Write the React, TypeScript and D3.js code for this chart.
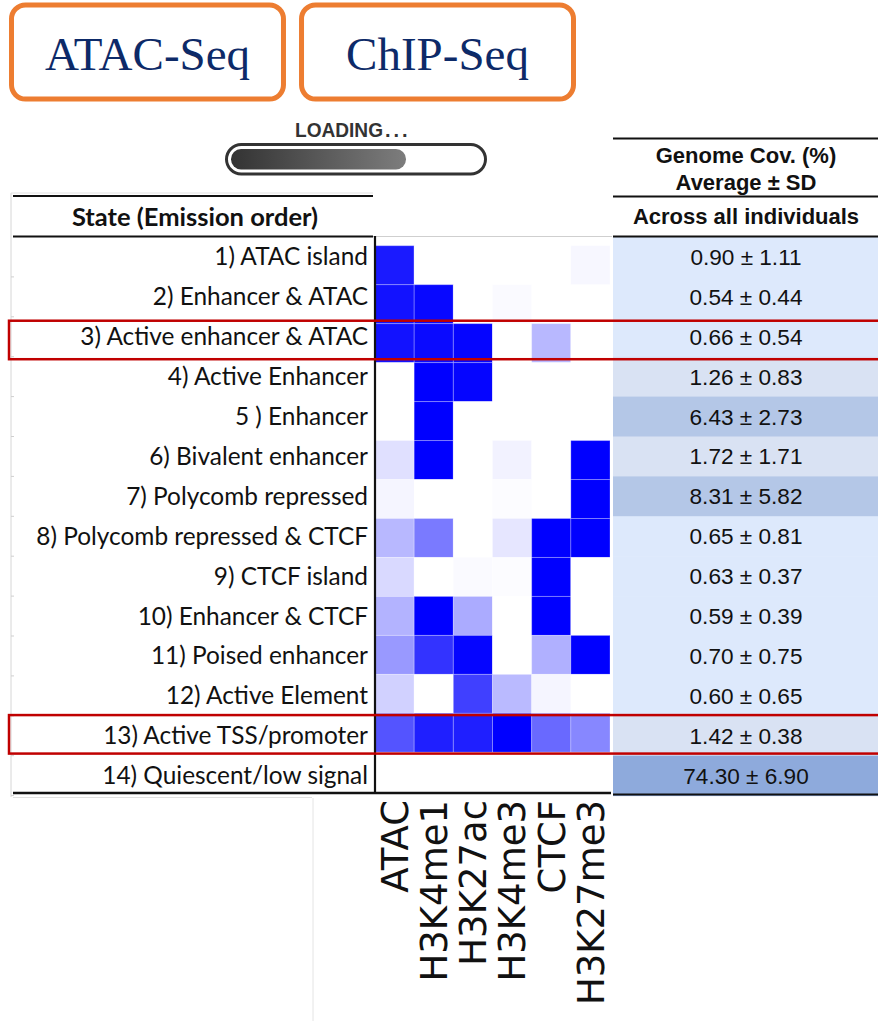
import React from "react";
import * as d3 from "d3";

const marks = ["ATAC", "H3K4me1", "H3K27ac", "H3K4me3", "CTCF", "H3K27me3"];

const states = [
  "1) ATAC island",
  "2) Enhancer & ATAC",
  "3) Active enhancer & ATAC",
  "4) Active Enhancer",
  "5 ) Enhancer",
  "6) Bivalent enhancer",
  "7) Polycomb repressed",
  "8) Polycomb repressed & CTCF",
  "9) CTCF island",
  "10) Enhancer & CTCF",
  "11) Poised enhancer",
  "12) Active Element",
  "13) Active TSS/promoter",
  "14) Quiescent/low signal",
];

// emission intensities per state (ATAC, H3K4me1, H3K27ac, H3K4me3, CTCF, H3K27me3)
const emissions = [
  [0.9, 0, 0, 0, 0, 0.03],
  [0.93, 0.97, 0, 0.02, 0, 0],
  [0.93, 0.96, 0.98, 0, 0.28, 0],
  [0, 1.0, 0.98, 0, 0, 0],
  [0, 1.0, 0, 0, 0, 0],
  [0.12, 1.0, 0, 0.05, 0, 1.0],
  [0.04, 0, 0, 0.01, 0, 1.0],
  [0.28, 0.52, 0, 0.1, 1.0, 1.0],
  [0.15, 0, 0.02, 0.01, 1.0, 0],
  [0.3, 1.0, 0.33, 0, 1.0, 0],
  [0.4, 0.8, 0.98, 0, 0.31, 1.0],
  [0.18, 0, 0.75, 0.27, 0.04, 0],
  [0.67, 0.88, 0.88, 1.0, 0.59, 0.47],
  [0, 0, 0, 0, 0, 0],
];

const covMean = [0.9, 0.54, 0.66, 1.26, 6.43, 1.72, 8.31, 0.65, 0.63, 0.59, 0.7, 0.6, 1.42, 74.3];
const covSD = [1.11, 0.44, 0.54, 0.83, 2.73, 1.71, 5.82, 0.81, 0.37, 0.39, 0.75, 0.65, 0.38, 6.9];

const highlighted = ["3) Active enhancer & ATAC", "13) Active TSS/promoter"];

const buttons = ["ATAC-Seq", "ChIP-Seq"];

export default function App() {
  const W = 878;
  const H = 1021;

  const x = d3.scaleBand<string>().domain(marks).range([375, 610]);
  const yHeat = d3.scaleBand<string>().domain(states).range([245.7, 791.3]);
  const yTab = d3.scaleBand<string>().domain(states).range([237, 795.6]);
  const color = d3.scaleLinear<string>().domain([0, 1]).range(["#ffffff", "#0000ff"]);
  const covColor = d3
    .scaleThreshold<number, string>()
    .domain([1, 2, 10])
    .range(["#dde9fc", "#d9e2f3", "#b4c7e7", "#8eaadc"]);

  const labelFont = "Lato, 'Open Sans', sans-serif";
  const arial = "'Liberation Sans', Arial, sans-serif";

  const btnX = d3.scaleBand<string>().domain(buttons).range([9, 576]).paddingInner(0.045);

  return (
    <svg
      width={W}
      height={H}
      style={{ position: "absolute", left: 0, top: 0, background: "#fff" }}
    >
      <defs>
        <linearGradient id="loadGrad" x1="0" x2="1" y1="0" y2="0">
          <stop offset="0" stopColor="#333333" />
          <stop offset="1" stopColor="#7d7d7d" />
        </linearGradient>
      </defs>

      {/* buttons */}
      {buttons.map((b) => (
        <g key={b}>
          <rect
            x={(btnX(b) as number) + 2.5}
            y={5}
            width={btnX.bandwidth() - 5}
            height={94}
            rx={14}
            fill="#fff"
            stroke="#ed7d31"
            strokeWidth={5}
          />
          <text
            x={(btnX(b) as number) + btnX.bandwidth() / 2}
            y={70}
            textAnchor="middle"
            fontFamily="'Liberation Serif', 'Times New Roman', serif"
            fontSize={47}
            fill="#0d2a68"
          >
            {b}
          </text>
        </g>
      ))}

      {/* loading bar */}
      <text
        x={295}
        y={136.5}
        fontFamily={arial}
        fontWeight="bold"
        fontSize={20}
        fill="#333"
        textLength={88}
        lengthAdjust="spacingAndGlyphs"
      >
        LOADING
      </text>
      <text x={385} y={136.5} fontFamily={arial} fontWeight="bold" fontSize={20} fill="#333" letterSpacing={3}>
        ...
      </text>
      <rect x={226.5} y={144.5} width={259} height={29.5} rx={14.75} fill="#fff" stroke="#333" strokeWidth={3} />
      <rect x={231} y={149} width={175} height={20.5} rx={10} fill="url(#loadGrad)" />

      {/* left table frame */}
      <line x1={11} x2={11} y1={193} y2={797} stroke="#d6d6d6" strokeWidth={1} />
      <line x1={11} x2={373} y1={193} y2={193} stroke="#e2e2e2" strokeWidth={1} />
      <line x1={13} x2={373} y1={196} y2={196} stroke="#111" strokeWidth={2.2} />
      <line x1={13} x2={373} y1={236.5} y2={236.5} stroke="#111" strokeWidth={2.2} />
      <line x1={373} x2={612} y1={236.5} y2={236.5} stroke="#cfcfcf" strokeWidth={1} />
      {states.map((s) => (
        <line
          key={"tick" + s}
          x1={11}
          x2={14}
          y1={(yTab(s) as number) + yTab.bandwidth()}
          y2={(yTab(s) as number) + yTab.bandwidth()}
          stroke="#cfcfcf"
        />
      ))}
      <text
        x={195}
        y={225.5}
        textAnchor="middle"
        fontFamily={labelFont}
        fontWeight="bold"
        fontSize={25.5}
        fill="#111"
      >
        State (Emission order)
      </text>

      {/* state labels */}
      {states.map((s) => (
        <text
          key={s}
          x={368}
          y={(yTab(s) as number) + yTab.bandwidth() / 2 + 8.5}
          textAnchor="end"
          fontFamily={labelFont}
          fontSize={24.4}
          fill="#111"
        >
          {s}
        </text>
      ))}

      {/* heatmap */}
      {states.map((s, i) =>
        marks.map((m, j) => (
          <rect
            key={s + m}
            x={x(m)}
            y={yHeat(s)}
            width={x.bandwidth()}
            height={yHeat.bandwidth()}
            fill={color(emissions[i][j])}
            stroke="#ffffff"
            strokeOpacity={0.25}
            strokeWidth={1}
          />
        ))
      )}
      <line x1={375} x2={375} y1={236} y2={793} stroke="#111" strokeWidth={2.2} />
      <line x1={13} x2={611} y1={793} y2={793} stroke="#111" strokeWidth={2.5} />
      <line x1={13} x2={312} y1={797.5} y2={797.5} stroke="#e0e0e0" strokeWidth={1} />
      <line x1={313} x2={313} y1={798} y2={1021} stroke="#e4e4e4" strokeWidth={1} />

      {/* column labels */}
      {marks.map((m) => (
        <text
          key={"lab" + m}
          transform={`translate(${(x(m) as number) + x.bandwidth() / 2},800) rotate(-90)`}
          textAnchor="end"
          dy="0.36em"
          fontFamily="'DejaVu Sans', sans-serif"
          fontSize={37}
          fill="#111"
        >
          {m}
        </text>
      ))}

      {/* right table */}
      {states.map((s, i) => (
        <g key={"cov" + s}>
          <rect
            x={613}
            y={yTab(s)}
            width={265}
            height={yTab.bandwidth() + 0.5}
            fill={covColor(covMean[i])}
          />
          <text
            x={746}
            y={(yTab(s) as number) + yTab.bandwidth() / 2 + 8}
            textAnchor="middle"
            fontFamily={arial}
            fontSize={22.6}
            fill="#111"
          >
            {`${covMean[i].toFixed(2)} ± ${covSD[i].toFixed(2)}`}
          </text>
        </g>
      ))}
      <line x1={613} x2={878} y1={138.5} y2={138.5} stroke="#111" strokeWidth={2.2} />
      <line x1={613} x2={878} y1={196.5} y2={196.5} stroke="#111" strokeWidth={2.2} />
      <line x1={613} x2={878} y1={236.5} y2={236.5} stroke="#111" strokeWidth={2.2} />
      <line x1={613} x2={878} y1={794.5} y2={794.5} stroke="#111" strokeWidth={2.2} />
      <text x={746} y={163} textAnchor="middle" fontFamily={arial} fontWeight="bold" fontSize={22} fill="#111">
        Genome Cov. (%)
      </text>
      <text x={746} y={190} textAnchor="middle" fontFamily={arial} fontWeight="bold" fontSize={22} fill="#111">
        Average ± SD
      </text>
      <text x={746} y={224} textAnchor="middle" fontFamily={arial} fontWeight="bold" fontSize={22} fill="#111">
        Across all individuals
      </text>

      {/* highlight boxes */}
      {highlighted.map((s) => {
        const top = ((yTab(s) as number) + (yHeat(s) as number)) / 2 + 0.5;
        return (
          <rect
            key={"hl" + s}
            x={9}
            y={top}
            width={880}
            height={38.5}
            fill="none"
            stroke="#c00000"
            strokeWidth={2.5}
          />
        );
      })}
    </svg>
  );
}
